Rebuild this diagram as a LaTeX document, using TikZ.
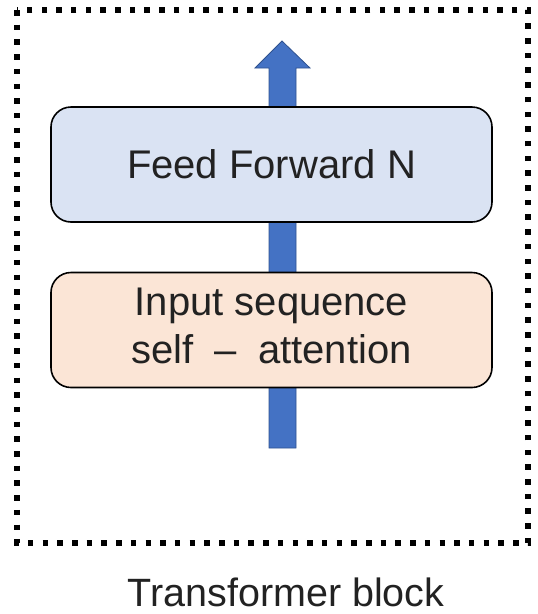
\documentclass[tikz,border=0pt]{standalone}
\usepackage{fontspec}
\setmainfont{Liberation Sans}
\definecolor{ffblue}{HTML}{DAE3F3}
\definecolor{inpeach}{HTML}{FBE5D6}
\definecolor{arrowfill}{HTML}{4472C4}
\definecolor{arrowedge}{HTML}{2F528F}
\definecolor{textgray}{HTML}{222222}
\tikzset{
  layerbox/.style={draw=black, line width=1.6pt, rounded corners=20pt, minimum width=441pt, minimum height=115pt, inner sep=0pt, align=center, text=textgray, font=\fontsize{40}{48}\selectfont},
  frame/.style={draw=black, line width=5.5pt, dash pattern=on 5.5pt off 9.2pt},
  flowarrow/.style={fill=arrowfill, draw=arrowedge, line width=0.8pt}
}
\begin{document}
\begin{tikzpicture}[x=1pt, y=-1pt]
  \useasboundingbox (0,0) rectangle (538,614);
  % dotted outline of the block
  \draw[frame] (17,10) rectangle (528,543);
  % upward data-flow arrow, behind the layers
  \draw[flowarrow] (269,448) -- (269,68) -- (255,68) -- (282,41) -- (310,68) -- (296,68) -- (296,448) -- cycle;
  % layers
  \node[layerbox, fill=ffblue] (ff) at (271.5,164.5) {Feed Forward N};
  \node[layerbox, fill=inpeach] (att) at (271.5,330) {Input sequence\\self\hspace{0.53em}--\hspace{0.53em}attention\vphantom{q}};
  % caption
  \node[text=textgray, font=\fontsize{39.5}{46}\selectfont, anchor=base, inner sep=0pt] (cap) at (286,606) {Transformer block};
\end{tikzpicture}
\end{document}
